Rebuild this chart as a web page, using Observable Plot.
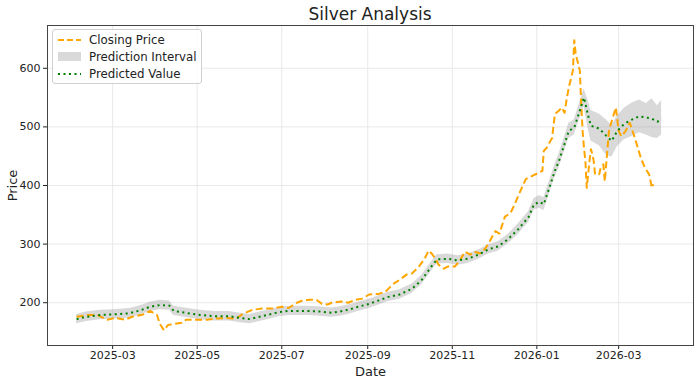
<!DOCTYPE html>
<html>
<head>
<meta charset="utf-8">
<script src="https://cdn.jsdelivr.net/npm/d3@7"></script>
<script src="https://cdn.jsdelivr.net/npm/@observablehq/plot@0.6"></script>
<style>
  html, body { margin: 0; padding: 0; background: #fff; }
  body { width: 700px; height: 383px; position: relative; font-family: "DejaVu Sans", sans-serif; color: #222; overflow: hidden; }
  #title { height: 24px; line-height: 28px; font-size: 17px; text-align: center; padding-left: 47px; padding-right: 7px; box-sizing: border-box; }
  #legend { position: absolute; left: 52px; top: 29px; width: 150px; height: 55px; border: 1px solid #d0d0d0; border-radius: 3px; background: rgba(255,255,255,0.85); box-sizing: border-box; font-size: 11.8px; white-space: nowrap; }
  .item { position: absolute; left: 4px; height: 16px; display: flex; align-items: center; white-space: nowrap; }
  .item svg { margin-right: 8px; flex: none; }
</style>
</head>
<body>
<div id="title">Silver Analysis</div>
<div id="chart"></div>
<div id="legend">
  <div class="item" style="top:2px"><svg width="24" height="10"><line x1="1" y1="5" x2="24" y2="5" stroke="#FFA500" stroke-width="2" stroke-dasharray="6,3"/></svg>Closing Price</div>
  <div class="item" style="top:19px"><svg width="24" height="10"><rect x="1" y="0" width="23" height="9" fill="gray" fill-opacity="0.3"/></svg>Prediction Interval</div>
  <div class="item" style="top:36px"><svg width="24" height="10"><line x1="1" y1="5" x2="24" y2="5" stroke="#008000" stroke-width="2" stroke-dasharray="2,3.5"/></svg>Predicted Value</div>
</div>
<script>
const closeDates = ["2025-02-03","2025-02-11","2025-02-18","2025-02-25","2025-03-03","2025-03-10","2025-03-15","2025-03-23","2025-03-28","2025-04-02","2025-04-04","2025-04-07","2025-04-10","2025-04-15","2025-04-20","2025-04-23","2025-05-05","2025-05-08","2025-05-15","2025-05-22","2025-05-29","2025-06-03","2025-06-10","2025-06-17","2025-06-24","2025-07-01","2025-07-06","2025-07-12","2025-07-15","2025-07-21","2025-07-26","2025-07-30","2025-08-03","2025-08-06","2025-08-13","2025-08-18","2025-08-23","2025-08-28","2025-09-02","2025-09-09","2025-09-14","2025-09-16","2025-09-20","2025-09-24","2025-09-29","2025-10-03","2025-10-08","2025-10-12","2025-10-15","2025-10-17","2025-10-20","2025-10-22","2025-10-26","2025-10-29","2025-11-03","2025-11-07","2025-11-10","2025-11-14","2025-11-17","2025-11-21","2025-11-25","2025-11-28","2025-12-02","2025-12-05","2025-12-09","2025-12-13","2025-12-16","2025-12-20","2025-12-24","2026-01-05","2026-01-06","2026-01-08","2026-01-12","2026-01-14","2026-01-17","2026-01-19","2026-01-21","2026-01-22","2026-01-24","2026-01-27","2026-01-28","2026-01-29","2026-02-01","2026-02-02","2026-02-03","2026-02-04","2026-02-05","2026-02-06","2026-02-08","2026-02-09","2026-02-10","2026-02-11","2026-02-12","2026-02-15","2026-02-16","2026-02-18","2026-02-19","2026-02-22","2026-02-24","2026-02-27","2026-03-01","2026-03-03","2026-03-06","2026-03-09","2026-03-11","2026-03-13","2026-03-17","2026-03-20","2026-03-23","2026-03-25","2026-03-26"];
const closeValues = [176,179,179,171,174,171,176,180,186,179,164,153,162,164,166,171,171,171,173,174,173,181,188,190,190,193,191,200,203,205,205,198,197,200,202,200,205,207,214,215,219,224,233,239,248,250,262,275,289,284,275,265,258,262,262,274,287,282,287,284,293,305,322,318,347,353,368,390,411,425,459,464,481,522,528,533,524,540,567,596,648,625,596,540,493,464,442,396,442,462,454,442,419,419,430,436,407,493,510,533,493,484,493,507,493,479,447,430,419,396,402];

const predDates = ["2025-02-03","2025-02-10","2025-02-20","2025-03-01","2025-03-13","2025-03-21","2025-03-28","2025-04-04","2025-04-11","2025-04-14","2025-04-22","2025-05-03","2025-05-14","2025-05-24","2025-06-01","2025-06-08","2025-06-15","2025-06-22","2025-06-29","2025-07-06","2025-07-13","2025-07-21","2025-07-28","2025-08-06","2025-08-12","2025-08-18","2025-08-25","2025-09-02","2025-09-09","2025-09-16","2025-09-24","2025-10-03","2025-10-10","2025-10-17","2025-10-21","2025-10-29","2025-11-05","2025-11-12","2025-11-20","2025-11-27","2025-12-04","2025-12-11","2025-12-18","2025-12-26","2025-12-30","2026-01-03","2026-01-06","2026-01-10","2026-01-14","2026-01-17","2026-01-21","2026-01-24","2026-01-28","2026-02-01","2026-02-04","2026-02-07","2026-02-09","2026-02-15","2026-02-20","2026-02-24","2026-02-28","2026-03-05","2026-03-11","2026-03-16","2026-03-21","2026-03-25","2026-03-29","2026-04-01"];
const predValues = [172,176,179,180,182,187,193,196,195,186,183,179,177,177,174,172,176,180,184,186,186,186,185,183,185,188,193,198,204,210,214,224,239,262,274,275,272,275,282,291,296,308,324,346,368,372,368,396,425,442,471,493,499,528,550,519,502,497,485,476,493,505,513,518,516,514,509,514];
const predLower = [164,168,171,172,174,179,185,188,187,178,175,171,169,169,166,164,168,172,176,178,178,178,177,175,177,180,185,190,196,202,206,216,231,254,266,267,264,267,274,283,288,300,315,337,358,361,357,385,414,430,459,480,486,514,535,497,476,468,452,448,466,478,484,490,486,482,480,486];
const predUpper = [180,184,187,188,190,195,201,204,203,194,191,187,185,185,182,180,184,188,192,194,194,194,193,191,193,196,201,206,212,218,222,232,247,270,282,283,280,283,290,299,304,316,333,355,378,383,379,407,436,454,483,506,512,542,565,545,528,522,512,503,518,532,541,546,540,548,536,545];

const xTicks = ["2025-03-01","2025-05-01","2025-07-01","2025-09-01","2025-11-01","2026-01-01","2026-03-01"];
const yTicks = [200, 300, 400, 500, 600];

const parse = d3.utcParse("%Y-%m-%d");
const closeData = closeDates.map((d, i) => ({date: parse(d), price: closeValues[i]}));
const predData = predDates.map((d, i) => ({date: parse(d), pred: predValues[i], lower: predLower[i], upper: predUpper[i]}));
const xt = xTicks.map(parse);

const chart = Plot.plot({
  width: 700,
  height: 359,
  marginTop: 1,
  marginBottom: 38,
  marginLeft: 47,
  marginRight: 7,
  style: {fontFamily: "DejaVu Sans, sans-serif", fontSize: "11px", color: "#222", background: "#fff"},
  x: {type: "utc", domain: [parse("2025-01-13"), parse("2026-04-24")]},
  y: {domain: [127, 673]},
  marks: [
    Plot.gridX(xt, {stroke: "#e3e3e3", strokeOpacity: 1, strokeWidth: 0.8}),
    Plot.gridY(yTicks, {stroke: "#e3e3e3", strokeOpacity: 1, strokeWidth: 0.8}),
    Plot.areaY(predData, {x: "date", y1: "lower", y2: "upper", fill: "gray", fillOpacity: 0.3, curve: "linear"}),
    Plot.lineY(closeData, {x: "date", y: "price", stroke: "#FFA500", strokeWidth: 2, strokeDasharray: "7,3.5", strokeLinecap: "butt"}),
    Plot.lineY(predData, {x: "date", y: "pred", stroke: "#008000", strokeWidth: 2, strokeDasharray: "2,3.5", strokeLinecap: "butt"}),
    Plot.axisX({ticks: xt, tickFormat: d3.utcFormat("%Y-%m"), tickSize: 4, tickPadding: 2, fontSize: 11, label: "Date", labelAnchor: "center", labelArrow: "none", labelOffset: 30}),
    Plot.axisY({ticks: yTicks, tickSize: 4, tickPadding: 3, fontSize: 11, label: "Price", labelAnchor: "center", labelArrow: "none", labelOffset: 40}),
    Plot.frame({stroke: "#444", strokeWidth: 1})
  ]
});
document.getElementById("chart").appendChild(chart);
chart.querySelectorAll("g[aria-label='x-axis label'] text, g[aria-label='y-axis label'] text").forEach(t => t.setAttribute("font-size", "13"));
</script>
</body>
</html>
